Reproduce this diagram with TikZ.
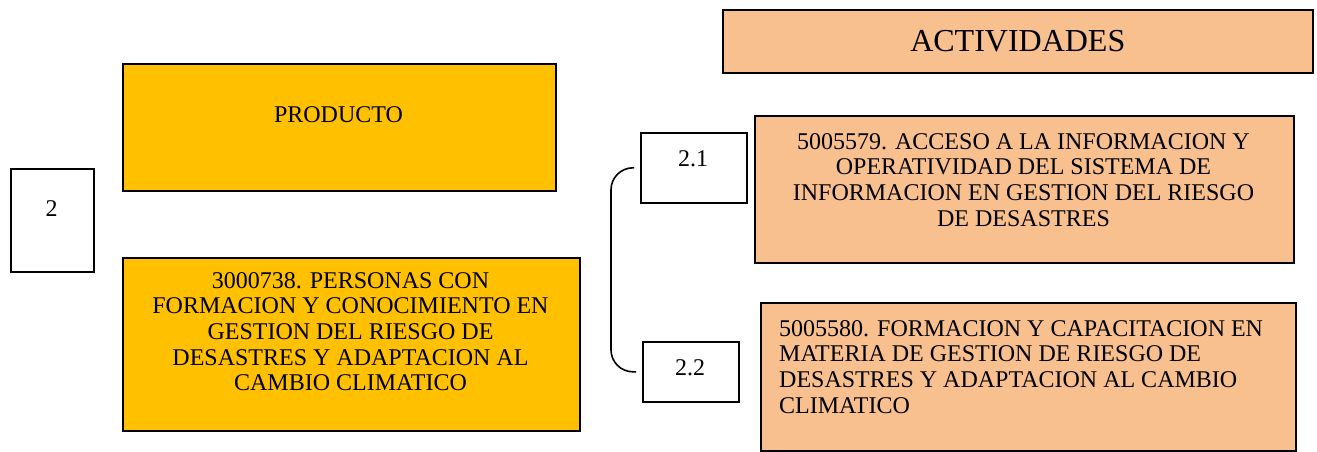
\documentclass[tikz,border=0pt]{standalone}
\usepackage{fontspec}
\setmainfont{Liberation Serif}
\definecolor{prodorange}{HTML}{FFC000}
\definecolor{actpeach}{HTML}{F8BF8F}
\tikzset{
  box/.style={draw=black, line width=1.6pt, anchor=north west, inner sep=0pt},
  boxtext/.style={anchor=north, inner sep=0pt, align=center, font=\fontsize{24}{25.7}\selectfont},
}
\begin{document}
\begin{tikzpicture}[x=1pt, y=-1pt]
  \useasboundingbox (0,0) rectangle (1317,451);

  % Number of the product
  \node[box, minimum width=83pt, minimum height=103pt] (num2) at (10,168) {};
  \node[boxtext] (num2txt) at (51.5,200) {2};

  % Product column
  \node[box, fill=prodorange, minimum width=433pt, minimum height=127pt] (prod) at (122,63) {};
  \node[boxtext] (prodtxt) at (338.5,106) {PRODUCTO};

  \node[box, fill=prodorange, minimum width=457pt, minimum height=173pt] (prodname) at (122,257) {};
  \node[boxtext] (prodnametxt) at (350.5,272)
    {3000738. PERSONAS CON\\FORMACION Y CONOCIMIENTO EN\\GESTION DEL RIESGO DE\\DESASTRES Y ADAPTACION AL\\CAMBIO CLIMATICO};

  % Activities header
  \node[box, fill=actpeach, minimum width=590pt, minimum height=63pt,
        font=\fontsize{32}{38}\selectfont] (acttitle) at (722,9) {ACTIVIDADES};

  % Activity numbers
  \node[box, minimum width=106pt, minimum height=70pt] (n21) at (640,132) {};
  \node[boxtext] (n21txt) at (693,150) {2.1};

  \node[box, minimum width=96pt, minimum height=60pt] (n22) at (642,341) {};
  \node[boxtext] (n22txt) at (690,359) {2.2};

  % Bracket joining the activities
  \draw[line width=1.6pt, rounded corners=22pt]
    ([xshift=-6pt]n21.west) -- ++(-23,0) |- ([xshift=-6pt]n22.west);

  % Activity boxes
  \node[box, fill=actpeach, minimum width=539pt, minimum height=147pt] (act1) at (754,115) {};
  \node[boxtext] (act1txt) at (1023.5,133)
    {5005579. ACCESO A LA INFORMACION Y\\OPERATIVIDAD DEL SISTEMA DE\\INFORMACION EN GESTION DEL RIESGO\\DE DESASTRES};

  \node[box, fill=actpeach, minimum width=535pt, minimum height=148pt] (act2) at (760,302) {};
  \node[boxtext, anchor=north west, align=left] (act2txt) at (779,320)
    {5005580. FORMACION Y CAPACITACION EN\\MATERIA DE GESTION DE RIESGO DE\\DESASTRES Y ADAPTACION AL CAMBIO\\CLIMATICO};

\end{tikzpicture}
\end{document}
